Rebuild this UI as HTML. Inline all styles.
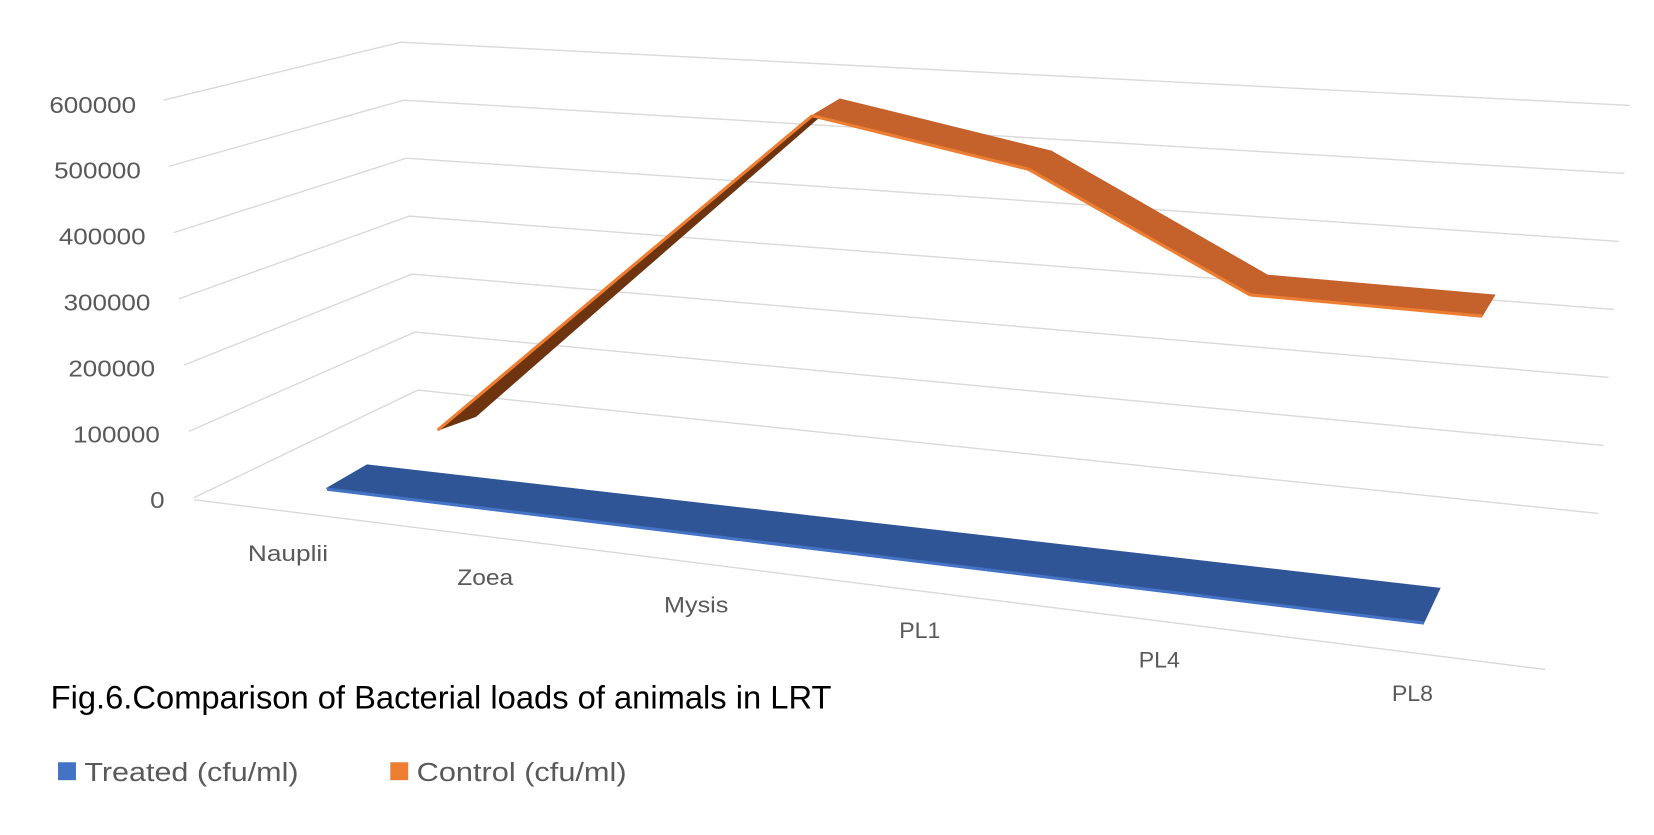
<!DOCTYPE html>
<html><head><meta charset="utf-8"><style>
html,body{margin:0;padding:0;background:#fff;}
svg{display:block;}
text{font-family:"Liberation Sans",Arial,sans-serif;}
</style></head><body>
<svg id="chart" width="1654" height="835" viewBox="0 0 1568 792" preserveAspectRatio="none" xmlns="http://www.w3.org/2000/svg">
<g id="grid"></g>
<g id="ylabels" fill="#595959" font-size="22" text-anchor="end"></g>
<g id="series"></g>
<g id="xlabels" fill="#595959" font-size="21" text-anchor="middle"></g>
<text x="48" y="672" font-size="31" fill="#000">Fig.6.Comparison of Bacterial loads of animals in LRT</text>
<g>
<rect x="55" y="723" width="17" height="17" fill="#4472c4"/>
<text x="80" y="741" font-size="25" fill="#595959" textLength="203" lengthAdjust="spacingAndGlyphs">Treated (cfu/ml)</text>
<rect x="370" y="723" width="17" height="17" fill="#ed7d31"/>
<text x="395" y="741" font-size="25" fill="#595959" textLength="199" lengthAdjust="spacingAndGlyphs">Control (cfu/ml)</text>
</g>
</svg>
<script>
const categories = ["Nauplii","Zoea","Mysis","PL1","PL4","PL8"];
const treated = [5000,5000,5000,5000,5000,5000];
const control = [10000,285000,560000,485000,290000,270000];
const yTicks = [0,100000,200000,300000,400000,500000,600000];
const yMax = 600000;

const NS="http://www.w3.org/2000/svg";
function mk(tag,attrs,parent){const e=document.createElementNS(NS,tag);for(const k in attrs)e.setAttribute(k,attrs[k]);parent.appendChild(e);return e;}
const grid=document.getElementById('grid'), yl=document.getElementById('ylabels'), xl=document.getElementById('xlabels'), ser=document.getElementById('series');
function lerp(a,b,t){return a+(b-a)*t;}

yTicks.forEach(v=>{
  const t=v/yMax;
  const leftY=lerp(472,95,t), leftX=lerp(184,155,t);
  const cornY=lerp(370,40,t), cornX=lerp(396,380,t);
  const rightY=lerp(487,100,t), rightX=lerp(1515,1545,t);
  const l=mk('polyline',{points:leftX+','+leftY+' '+cornX+','+cornY+' '+rightX+','+rightY,fill:'none',stroke:'#d9d9d9','stroke-width':1.3},grid);
  
  
});
const fl=mk('line',{x1:184,y1:474,x2:1465,y2:635,stroke:'#d9d9d9','stroke-width':1.3},grid);



yTicks.forEach(v=>{
  const t0=v/yMax;
  const y=lerp(474,99,t0)+8;
  const s=String(v);
  const t=mk('text',{x:lerp(156,129,t0),y:y},yl);
  t.setAttribute('textLength', s.length*13.7);
  t.setAttribute('lengthAdjust','spacingAndGlyphs');
  t.textContent=s;
  
  
});

const labelPos=[[273,532,76],[460,555,53],[660,581,61],[872,605,39],[1099,633,39],[1339,665,39]];
categories.forEach((c,i)=>{
  const t=mk('text',{x:labelPos[i][0],y:labelPos[i][1],textLength:labelPos[i][2],lengthAdjust:'spacingAndGlyphs'},xl);
  t.textContent=c;
  
  
});

const ctrlX=i=>[415,592,770,975,1185,1405][i];
const K=0.000568;
const ctrlY=(i,v)=>397+0.040*ctrlX(i)-K*v;
const blueX=i=>lerp(310,1350,i/5);
const blueY=(i,v)=>lerp(465,592,i/5)-v*0.0004;

for(let i=0;i<5;i++){
  const x1=blueX(i),y1=blueY(i,treated[i]),x2=blueX(i+1),y2=blueY(i+1,treated[i+1]);
  const o1=[lerp(38,15,i/5),lerp(-22,-32,i/5)],o2=[lerp(38,15,(i+1)/5),lerp(-22,-32,(i+1)/5)];
  const p=mk('polygon',{points:`${x1},${y1} ${x2},${y2} ${x2+o2[0]},${y2+o2[1]} ${x1+o1[0]},${y1+o1[1]}`,fill:'#2f5597',stroke:'#2f5597','stroke-width':1},ser);
  
  
  const e=mk('line',{x1:x1,y1:y1+1,x2:x2,y2:y2+1,stroke:'#4472c4','stroke-width':3},ser);
  
  
}
const offs=i=>[lerp(36,12,i/5),lerp(-13,-20,i/5)];
for(let i=0;i<5;i++){
  const x1=ctrlX(i),y1=ctrlY(i,control[i]),x2=ctrlX(i+1),y2=ctrlY(i+1,control[i+1]);
  const o1=offs(i),o2=offs(i+1);
  const rising=control[i+1]>control[i]+100000;
  const p=mk('polygon',{points:`${x1},${y1} ${x2},${y2} ${x2+o2[0]},${y2+o2[1]} ${x1+o1[0]},${y1+o1[1]}`,fill:rising?'#6e3410':'#c5612a',stroke:rising?'#6e3410':'#c5612a','stroke-width':1},ser);
  
  
  const e=mk('line',{x1:x1,y1:y1,x2:x2,y2:y2,stroke:'#ed7d31','stroke-width':3},ser);
  
  
}
</script>
</body></html>
